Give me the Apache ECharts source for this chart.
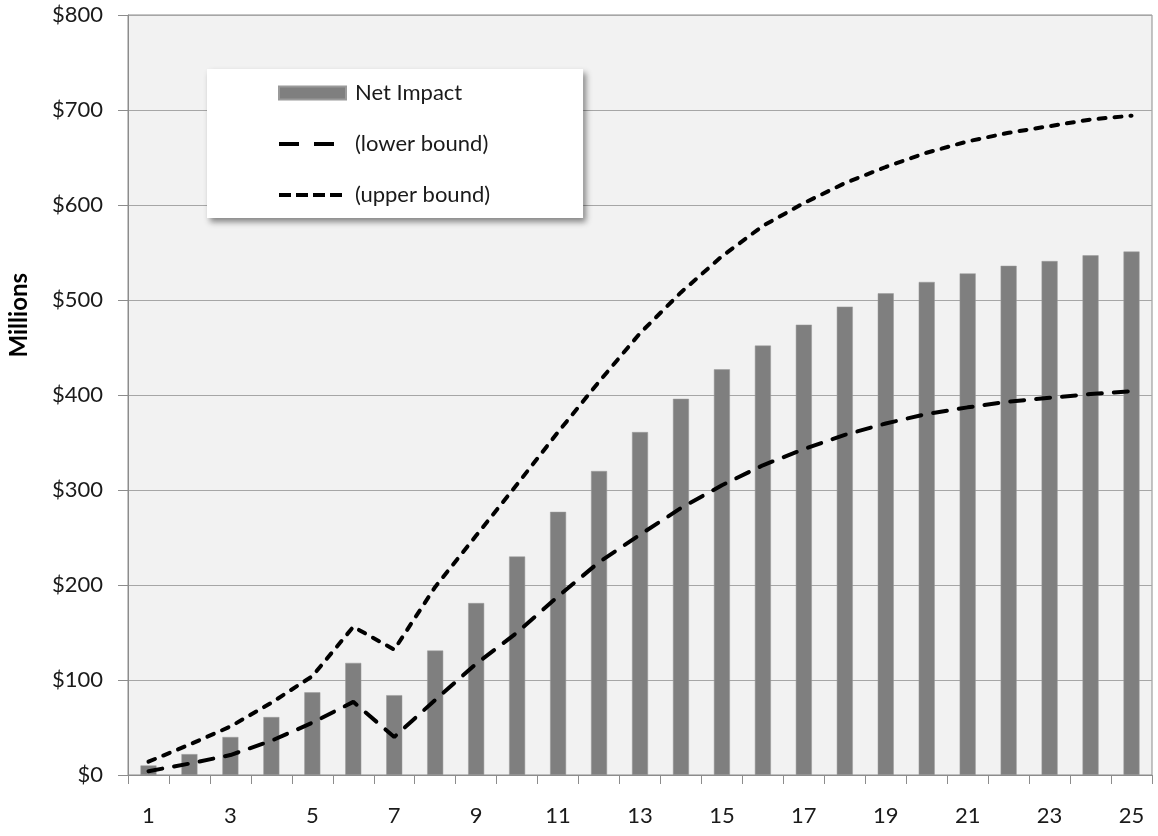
<!DOCTYPE html>
<html>
<head>
<meta charset="utf-8">
<script src="https://cdn.jsdelivr.net/npm/echarts@6/dist/echarts.min.js"></script>
<style>
html,body{margin:0;padding:0;background:#fff;}
#c{width:1158px;height:836px;}
</style>
</head>
<body>
<div id="c"></div>
<script>
var categories = ['1','2','3','4','5','6','7','8','9','10','11','12','13','14','15','16','17','18','19','20','21','22','23','24','25'];
var netImpact = [10, 22, 40, 61, 87, 118, 84, 131, 181, 230, 277, 320, 361, 396, 427, 452, 474, 493, 507, 519, 528, 536, 541, 547, 551];
var lowerBound = [4, 12, 21, 36, 55, 77, 40, 79, 117, 150, 188, 224, 253, 281, 305, 326, 343, 358, 370, 380, 387, 393, 397, 401, 404];
var upperBound = [14, 32, 51, 76, 104, 156, 132, 198, 252, 306, 361, 414, 465, 508, 546, 578, 602, 623, 640, 655, 667, 676, 683, 690, 694];
var yTicks = [0, 100, 200, 300, 400, 500, 600, 700, 800];

var FONT = 'Lato';
var chart = echarts.init(document.getElementById('c'), null, {renderer: 'canvas'});
chart.setOption({
  animation: false,
  backgroundColor: '#ffffff',
  grid: {
    left: 128, right: 6, top: 15, bottom: 61,
    show: true, backgroundColor: '#f2f2f2', borderColor: '#8c8c8c', borderWidth: 1
  },
  legend: {
    orient: 'vertical',
    left: 207, top: 69,
    backgroundColor: '#ffffff',
    shadowBlur: 6, shadowColor: 'rgba(0,0,0,0.45)', shadowOffsetX: 3, shadowOffsetY: 4,
    padding: [13, 93, 12, 70],
    itemWidth: 67, itemHeight: 13, itemGap: 29,
    textStyle: {fontFamily: FONT, fontSize: 22, color: '#1a1a1a', padding: [0, 0, 0, 4]},
    data: [
      {name: 'Net Impact', icon: 'rect'},
      {name: '(lower bound)', lineStyle: {type: [20, 15], width: 4, cap: 'butt'},
        itemStyle: {opacity: 0, color: 'rgba(0,0,0,0)', borderWidth: 0}},
      {name: '(upper bound)', lineStyle: {type: [12, 5], width: 4, cap: 'butt'},
        itemStyle: {opacity: 0, color: 'rgba(0,0,0,0)', borderWidth: 0}}
    ]
  },
  graphic: [{
    type: 'text', left: 7, top: 273, rotation: Math.PI / 2,
    style: {text: 'Millions', font: 'bold 24px ' + FONT, fill: '#000'}
  }],
  xAxis: {
    type: 'category',
    data: categories,
    boundaryGap: true,
    axisLine: {lineStyle: {color: '#8c8c8c', width: 1}},
    axisTick: {show: true, interval: 0, length: 9, lineStyle: {color: '#8c8c8c'}},
    axisLabel: {interval: 1, margin: 30, fontFamily: FONT, fontSize: 22, color: '#1a1a1a'}
  },
  yAxis: {
    type: 'value',
    min: yTicks[0], max: yTicks[yTicks.length - 1], interval: 100,
    axisLine: {show: true, lineStyle: {color: '#8c8c8c', width: 1}},
    axisTick: {show: true, length: 10, lineStyle: {color: '#8c8c8c'}},
    splitLine: {show: true, lineStyle: {color: '#a6a6a6', width: 1}},
    axisLabel: {margin: 25, fontFamily: FONT, fontSize: 22, color: '#1a1a1a',
      formatter: function (v) { return '$' + v; }}
  },
  series: [
    {
      name: 'Net Impact', type: 'bar', data: netImpact, barWidth: 16,
      itemStyle: {color: '#7f7f7f', borderColor: '#9a9a9a', borderWidth: 0.5}
    },
    {
      name: '(lower bound)', type: 'line', data: lowerBound, symbol: 'none',
      lineStyle: {color: '#000', width: 4, type: [14, 12], cap: 'round'},
      itemStyle: {color: '#000'}
    },
    {
      name: '(upper bound)', type: 'line', data: upperBound, symbol: 'none',
      lineStyle: {color: '#000', width: 4, type: [7, 9], cap: 'round'},
      itemStyle: {color: '#000'}
    }
  ]
});
</script>
</body>
</html>
